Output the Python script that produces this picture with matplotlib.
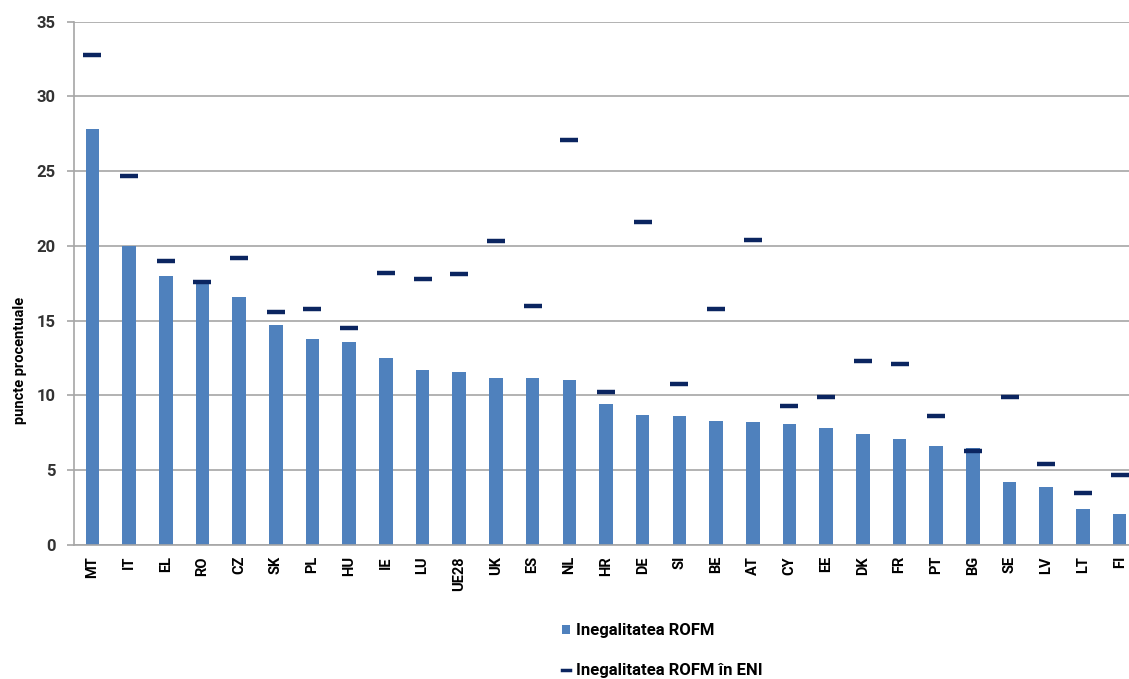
import numpy as np
import matplotlib
matplotlib.use("Agg")
from matplotlib import pyplot as plt
from matplotlib.patches import Patch
from matplotlib.lines import Line2D

plt.rcParams['font.family'] = ['Roboto', 'DejaVu Sans']
plt.rcParams['font.weight'] = 'bold'

countries = ['MT', 'IT', 'EL', 'RO', 'CZ', 'SK', 'PL', 'HU', 'IE', 'LU', 'UE28', 'UK', 'ES', 'NL', 'HR',
             'DE', 'SI', 'BE', 'AT', 'CY', 'EE', 'DK', 'FR', 'PT', 'BG', 'SE', 'LV', 'LT', 'FI']
rofm = [27.8, 20.0, 18.0, 17.7, 16.6, 14.7, 13.8, 13.6, 12.5, 11.7, 11.6, 11.15, 11.15, 11.05, 9.4,
        8.7, 8.6, 8.3, 8.2, 8.1, 7.8, 7.4, 7.1, 6.6, 6.5, 4.2, 3.9, 2.4, 2.1]
rofm_eni = [32.8, 24.7, 19.0, 17.6, 19.2, 15.6, 15.8, 14.5, 18.2, 17.8, 18.1, 20.3, 16.0, 27.1, 10.2,
            21.6, 10.8, 15.8, 20.4, 9.3, 9.9, 12.3, 12.1, 8.6, 6.3, 9.9, 5.4, 3.5, 4.7]

label_bar = 'Inegalitatea ROFM'
label_eni = 'Inegalitatea ROFM în ENI'

bar_color = '#4f81bd'
dash_color = '#0b2560'
grid_color = '#a6a6a6'

W, H = 1129, 679
fig = plt.figure(figsize=(W / 100, H / 100), dpi=100)
ax = fig.add_axes([74 / W, 1 - 545 / H, (1138 - 74) / W, (545 - 21.7) / H])

x = np.arange(len(countries))
ax.bar(x, rofm, width=0.37, color=bar_color, zorder=2)
ax.plot(x, rofm_eni, linestyle='none', marker='_', markersize=13.5, markeredgewidth=3.2,
        color=dash_color, zorder=3)

ax.set_xlim(-0.5, len(countries) - 0.5)
ax.set_ylim(0, 35)
ax.set_yticks(range(0, 36, 5))
ax.yaxis.grid(True, color=grid_color, linewidth=1.2, zorder=0)
ax.set_axisbelow(True)

for s in ['top', 'right']:
    ax.spines[s].set_visible(False)
for s in ['left', 'bottom']:
    ax.spines[s].set_color(grid_color)
    ax.spines[s].set_linewidth(1.2)

ax.set_xticks(x)
ax.set_xticklabels(countries, rotation=90, fontweight='bold', fontsize=10.5)
ax.tick_params(axis='x', length=0, pad=8)
ax.tick_params(axis='y', length=5, color=grid_color, width=1.2, labelsize=12, pad=8)
for t in ax.get_yticklabels():
    t.set_fontweight('bold')
    t.set_color('#333333')

fig.text(20 / W, 1 - 360 / H, 'puncte procentuale', rotation=90, ha='center', va='center',
         fontsize=10.5, fontweight='bold')

handles = [Patch(facecolor=bar_color, edgecolor='none'),
           Line2D([0], [0], color=dash_color, linewidth=2.5)]
leg = fig.legend(handles, [label_bar, label_eni], loc='upper left',
                 bbox_to_anchor=(547 / W, 1 - 608 / H), frameon=False,
                 handlelength=0.45, handleheight=0.45, handletextpad=0.4, labelspacing=1.5,
                 prop={'size': 12, 'weight': 'bold'})

fig.savefig('out.png', dpi=100)
